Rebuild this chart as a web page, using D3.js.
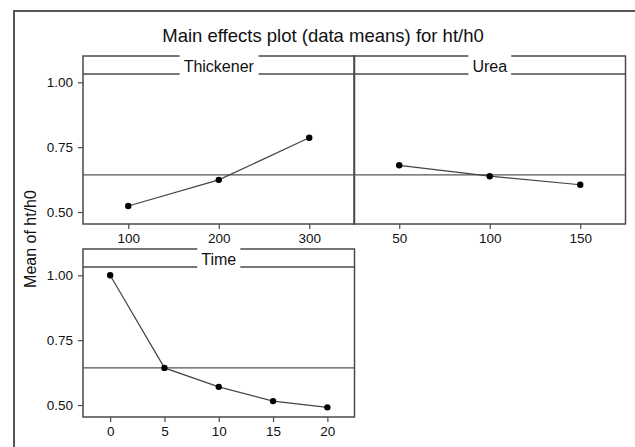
<!DOCTYPE html>
<html>
<head>
<meta charset="utf-8">
<script src="https://cdn.jsdelivr.net/npm/d3@7"></script>
<style>
  html, body { margin: 0; padding: 0; background: #fff; }
  svg { display: block; font-family: "Liberation Sans", Arial, Helvetica, sans-serif; }
</style>
</head>
<body>
<svg id="chart" width="635" height="447"></svg>
<script>
// Main effects: mean of ht/h0 at each level of each factor
const chartTitle = "Main effects plot (data means) for ht/h0";
const yLabel = "Mean of ht/h0";

const thickenerLevels = [100, 200, 300];
const thickenerMeans  = [0.523, 0.624, 0.786];

const ureaLevels = [50, 100, 150];
const ureaMeans  = [0.680, 0.638, 0.605];

const timeLevels = [0, 5, 10, 15, 20];
const timeMeans  = [1.000, 0.643, 0.570, 0.515, 0.491];

const yTickValues = [0.50, 0.75, 1.00];
const grandMean = 0.643;

const panels = [
  { name: "Thickener", levels: thickenerLevels, means: thickenerMeans, x0: 83,  top: 56,  showY: true },
  { name: "Urea",      levels: ureaLevels,      means: ureaMeans,      x0: 354, top: 56,  showY: false },
  { name: "Time",      levels: timeLevels,      means: timeMeans,      x0: 83,  top: 249, showY: true }
];

const panelW = 271.5, stripH = 18, plotH = 150;
const ink = "#4a4a4a";

const svg = d3.select("#chart");

// outer frame (runs off the right and bottom edges)
svg.append("rect")
  .attr("x", 14).attr("y", 11)
  .attr("width", 660).attr("height", 470)
  .attr("fill", "none").attr("stroke", "#555").attr("stroke-width", 2);

svg.append("text")
  .attr("x", 323).attr("y", 42)
  .attr("text-anchor", "middle")
  .attr("font-size", 18.5).attr("fill", "#111")
  .text(chartTitle);

svg.append("text")
  .attr("transform", "translate(36,239) rotate(-90)")
  .attr("text-anchor", "middle")
  .attr("font-size", 16).attr("fill", "#111")
  .text(yLabel);

const y = d3.scaleLinear().domain([0.4538, 1.032]);

panels.forEach(p => {
  const step = p.levels[1] - p.levels[0];
  const x = d3.scaleLinear()
    .domain([d3.min(p.levels) - step / 2, d3.max(p.levels) + step / 2])
    .range([p.x0, p.x0 + panelW]);
  const plotTop = p.top + stripH;
  const plotBottom = plotTop + plotH;
  y.range([plotBottom, plotTop]);

  const g = svg.append("g");

  // panel box including strip
  g.append("rect")
    .attr("x", p.x0).attr("y", p.top)
    .attr("width", panelW).attr("height", stripH + plotH)
    .attr("fill", "none").attr("stroke", ink).attr("stroke-width", 1.5);
  g.append("line")
    .attr("x1", p.x0).attr("x2", p.x0 + panelW)
    .attr("y1", plotTop).attr("y2", plotTop)
    .attr("stroke", ink).attr("stroke-width", 1.5);

  // strip label on a white patch that interrupts the strip lines
  const cx = p.x0 + panelW / 2;
  const label = g.append("text")
    .attr("x", cx).attr("y", p.top + 16)
    .attr("text-anchor", "middle")
    .attr("font-size", 16).attr("fill", "#111")
    .text(p.name);
  const bb = label.node().getBBox();
  g.insert("rect", "text")
    .attr("x", bb.x - 4).attr("y", p.top - 2)
    .attr("width", bb.width + 8).attr("height", stripH + 4)
    .attr("fill", "#fff");

  // grand mean reference line
  g.append("line")
    .attr("x1", p.x0).attr("x2", p.x0 + panelW)
    .attr("y1", y(grandMean)).attr("y2", y(grandMean))
    .attr("stroke", "#555").attr("stroke-width", 1.2);

  // x axis
  const xa = g.append("g")
    .attr("transform", `translate(0,${plotBottom})`)
    .call(d3.axisBottom(x).tickValues(p.levels).tickSize(5).tickPadding(4).tickFormat(d3.format("d")));
  xa.select(".domain").remove();
  xa.selectAll("line").attr("stroke", ink).attr("stroke-width", 1.2);
  xa.selectAll("text").attr("font-size", 13.5).attr("fill", "#111")
    .attr("font-family", "Liberation Sans, Arial, sans-serif");

  // y axis
  if (p.showY) {
    const ya = g.append("g")
      .attr("transform", `translate(${p.x0},0)`)
      .call(d3.axisLeft(y).tickValues(yTickValues).tickSize(5).tickPadding(5).tickFormat(d3.format(".2f")));
    ya.select(".domain").remove();
    ya.selectAll("line").attr("stroke", ink).attr("stroke-width", 1.2);
    ya.selectAll("text").attr("font-size", 13.5).attr("fill", "#111")
      .attr("font-family", "Liberation Sans, Arial, sans-serif");
  }

  // means line and points
  const pts = p.levels.map((l, i) => [l, p.means[i]]);
  g.append("path")
    .datum(pts)
    .attr("d", d3.line().x(d => x(d[0])).y(d => y(d[1])))
    .attr("fill", "none").attr("stroke", "#444").attr("stroke-width", 1.2);
  g.selectAll("circle.pt")
    .data(pts).enter().append("circle")
    .attr("class", "pt")
    .attr("cx", d => x(d[0])).attr("cy", d => y(d[1]))
    .attr("r", 3.2).attr("fill", "#000");
});
</script>
</body>
</html>
